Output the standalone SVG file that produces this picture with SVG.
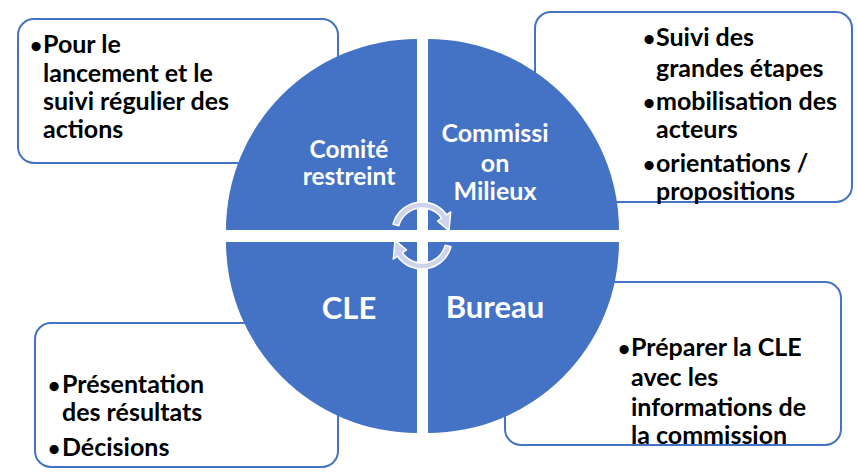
<svg xmlns="http://www.w3.org/2000/svg" width="858" height="473" viewBox="0 0 858 473">
<style>
.box{fill:#fff;stroke:#4472C4;stroke-width:2}
.q{fill:#4472C4}
.t{font-family:Lato,"Open Sans",sans-serif;font-weight:bold;font-size:25px;fill:#000}
.b{font-size:21px}
.w{font-family:Lato,"Open Sans",sans-serif;font-weight:bold;fill:#fff;text-anchor:middle}
.arr{fill:#CDD3EC;stroke:#fff;stroke-width:1.5;stroke-linejoin:round}
</style>
<rect width="858" height="473" fill="#fff"/>
<g id="box-comite">
<rect class="box" x="18" y="19" width="320" height="144" rx="16"/>
<text class="t"><tspan class="b" x="30" y="53">•</tspan><tspan x="43" y="53">Pour le</tspan><tspan x="43" y="82">lancement et le</tspan><tspan x="43" y="110">suivi régulier des</tspan><tspan x="43" y="138">actions</tspan></text>
</g>
<g id="box-commission">
<rect class="box" x="535" y="12" width="317" height="190" rx="16"/>
</g>
<g id="box-cle">
<rect class="box" x="35" y="323" width="303" height="144" rx="16"/>
<text class="t"><tspan class="b" x="48" y="393">•</tspan><tspan x="62" y="393">Présentation</tspan><tspan x="62" y="421">des résultats</tspan><tspan class="b" x="48" y="456">•</tspan><tspan x="62" y="456">Décisions</tspan></text>
</g>
<g id="box-bureau">
<rect class="box" x="505" y="282" width="336" height="163" rx="16"/>
</g>
<g id="quad-comite">
<path class="q" d="M417,230 L226,230 A191,191 0 0 1 417,39 Z"/>
<text class="w" font-size="24.5"><tspan x="349" y="158">Comité</tspan><tspan x="349" y="185">restreint</tspan></text>
</g>
<g id="quad-commission">
<path class="q" d="M428,230 L428,39 A191,191 0 0 1 619,230 Z"/>
<text class="w" font-size="25"><tspan x="495" y="142">Commissi</tspan><tspan x="495" y="172">on</tspan><tspan x="495" y="200">Milieux</tspan></text>
</g>
<g id="quad-bureau">
<path class="q" d="M428,242 L619,242 A191,191 0 0 1 428,433 Z"/>
<text class="w" font-size="31" x="495" y="318">Bureau</text>
</g>
<g id="quad-cle">
<path class="q" d="M417,242 L417,433 A191,191 0 0 1 226,242 Z"/>
<text class="w" font-size="31" x="349" y="319">CLE</text>
</g>
<g id="box-commission-text">
<text class="t"><tspan class="b" x="643" y="46">•</tspan><tspan x="656" y="46">Suivi des</tspan><tspan x="656" y="77">grandes étapes</tspan><tspan class="b" x="643" y="110">•</tspan><tspan x="656" y="110">mobilisation des</tspan><tspan x="656" y="138">acteurs</tspan><tspan class="b" x="643" y="172">•</tspan><tspan x="656" y="172">orientations /</tspan><tspan x="656" y="200">propositions</tspan></text>
</g>
<g id="box-bureau-text">
<text class="t"><tspan class="b" x="618" y="356">•</tspan><tspan x="631" y="356">Préparer la CLE</tspan><tspan x="631" y="386">avec les</tspan><tspan x="631" y="416">informations de</tspan><tspan x="631" y="444">la commission</tspan></text>
</g>
<g id="connectors">
<path id="cycle-top" class="arr" d="M393,224.2 A30,30 0 0 1 446.6,214.8 L450.7,211.9 L449,230.6 L437.6,221.1 L441.7,218.2 A24,24 0 0 0 398.8,225.8 Z"/>
<path id="cycle-bottom" class="arr" transform="rotate(180 422 235.5)" d="M393,224.2 A30,30 0 0 1 446.6,214.8 L450.7,211.9 L449,230.6 L437.6,221.1 L441.7,218.2 A24,24 0 0 0 398.8,225.8 Z"/>
</g>
</svg>
